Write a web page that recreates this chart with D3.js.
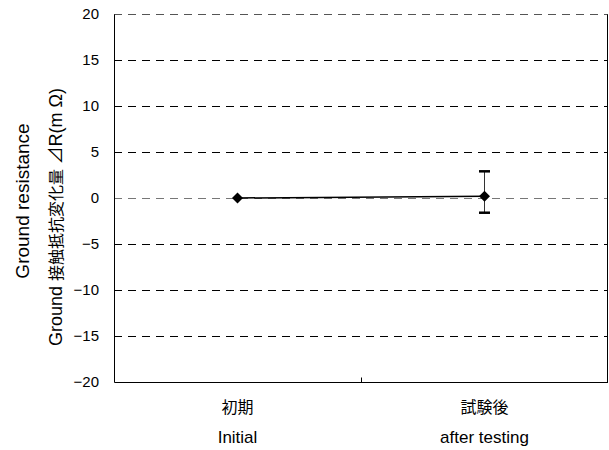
<!DOCTYPE html>
<html>
<head>
<meta charset="utf-8">
<script src="https://cdn.jsdelivr.net/npm/d3@7"></script>
<style>
  body { margin: 0; background: #fff; }
  svg text { font-family: "Liberation Sans", Arial, "Noto Sans CJK JP", sans-serif; fill: #000; }
</style>
</head>
<body>
<svg id="chart" width="609" height="450"></svg>
<script>
// Categories (two label lines each)
const categoriesJa = ["初期", "試験後"];
const categoriesEn = ["Initial", "after testing"];
// Mean change in ground resistance and error bar limits
const values = [0, 0.2];
const errHigh = [0, 2.9];
const errLow = [0, -1.6];
// Y axis ticks
const yTicks = [-20, -15, -10, -5, 0, 5, 10, 15, 20];

const svg = d3.select("#chart");
const margin = { left: 114, right: 1, top: 14, bottom: 68 };
const W = 609, H = 450;
const x = d3.scaleBand().domain(categoriesEn).range([margin.left, W - margin.right]);
const y = d3.scaleLinear().domain([-20, 20]).range([H - margin.bottom, margin.top]);

// Dashed gridlines
svg.append("g").selectAll("line").data(yTicks.filter(t => t > -20)).join("line")
  .attr("x1", margin.left).attr("x2", W - margin.right)
  .attr("y1", d => Math.round(y(d)) + 0.5).attr("y2", d => Math.round(y(d)) + 0.5)
  .attr("stroke", d => d === 0 ? "#777" : (d === 20 ? "#555" : "#000"))
  .attr("stroke-width", 1)
  .attr("stroke-dasharray", "8,6");

// Left, right and bottom frame lines
const x0 = margin.left + 0.5, x1 = W - margin.right - 0.5;
const yb = Math.round(y(-20)) + 0.5, yt = Math.round(y(20)) + 0.5;
svg.append("line").attr("x1", x0).attr("x2", x0).attr("y1", yt).attr("y2", yb).attr("stroke", "#000");
svg.append("line").attr("x1", x1).attr("x2", x1).attr("y1", yt).attr("y2", yb).attr("stroke", "#000");
svg.append("line").attr("x1", x0).attr("x2", x1 + 0.5).attr("y1", yb).attr("y2", yb).attr("stroke", "#000");

// Y tick labels
svg.append("g").selectAll("text").data(yTicks).join("text")
  .attr("x", 99).attr("y", d => y(d))
  .attr("dy", "0.35em")
  .attr("text-anchor", "end")
  .attr("font-size", 15)
  .text(d => d < 0 ? "\u2212" + Math.abs(d) : d);

// Inner tick between categories
const midX = Math.round(x(categoriesEn[1])) + 0.5;
svg.append("line").attr("x1", midX).attr("x2", midX).attr("y1", yb - 5).attr("y2", yb).attr("stroke", "#000");

// Category labels
svg.append("g").selectAll("text").data(categoriesJa).join("text")
  .attr("x", (d, i) => x(categoriesEn[i]) + x.bandwidth() / 2)
  .attr("y", 413).attr("text-anchor", "middle").attr("font-size", 16)
  .text(d => d);
svg.append("g").selectAll("text").data(categoriesEn).join("text")
  .attr("x", d => x(d) + x.bandwidth() / 2)
  .attr("y", 443).attr("text-anchor", "middle").attr("font-size", 17)
  .text(d => d);

// Axis titles
svg.append("text")
  .attr("transform", `translate(29,201) rotate(-90)`)
  .attr("text-anchor", "middle").attr("font-size", 19)
  .text("Ground resistance");
const t2 = svg.append("text")
  .attr("transform", `translate(62,217) rotate(-90)`)
  .attr("text-anchor", "middle").attr("font-size", 18);
t2.append("tspan").text("Ground ");
t2.append("tspan").attr("font-size", 16).text("接触抵抗変化量 ");
t2.append("tspan").text("⊿R(m Ω)");

const cx = i => x(categoriesEn[i]) + x.bandwidth() / 2;

// Connecting line
svg.append("path")
  .datum(values)
  .attr("d", d3.line().x((d, i) => cx(i)).y(d => y(d)))
  .attr("fill", "none").attr("stroke", "#000").attr("stroke-width", 1.5);

// Error bars
const eb = svg.append("g");
values.forEach((v, i) => {
  if (errHigh[i] === errLow[i]) return;
  const c = cx(i);
  eb.append("line").attr("x1", c).attr("x2", c).attr("y1", y(errHigh[i])).attr("y2", y(errLow[i]))
    .attr("stroke", "#333").attr("stroke-width", 1);
  [errHigh[i], errLow[i]].forEach(e => {
    eb.append("line").attr("x1", c - 5.5).attr("x2", c + 5.5).attr("y1", y(e)).attr("y2", y(e))
      .attr("stroke", "#000").attr("stroke-width", 2.5);
  });
});

// Diamond markers
svg.append("g").selectAll("path").data(values).join("path")
  .attr("transform", (d, i) => `translate(${cx(i)},${y(d)})`)
  .attr("d", "M0,-5.5L5.5,0L0,5.5L-5.5,0Z")
  .attr("fill", "#000");
</script>
</body>
</html>
